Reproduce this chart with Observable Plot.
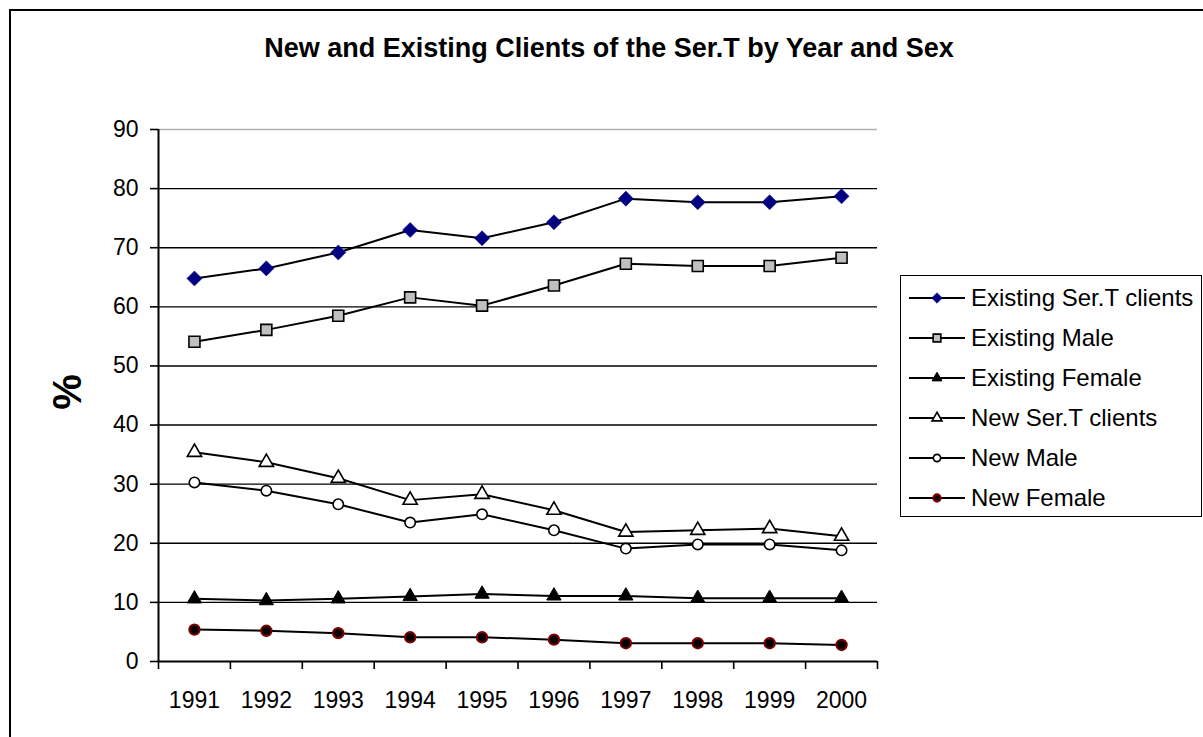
<!DOCTYPE html>
<html>
<head>
<meta charset="utf-8">
<script src="https://cdn.jsdelivr.net/npm/d3@7"></script>
<script src="https://cdn.jsdelivr.net/npm/@observablehq/plot@0.6"></script>
<style>
  html, body { margin: 0; padding: 0; background: #fff; }
  #wrap { position: relative; width: 1203px; height: 737px; overflow: hidden; background: #fff; font-family: "Liberation Sans", Arial, sans-serif; }
  #frame { position: absolute; left: 9px; top: 9px; width: 1300px; height: 800px; border: 2px solid #000; box-sizing: border-box; }
  #title { position: absolute; left: 0; width: 1218px; top: 33px; text-align: center; font-weight: bold; font-size: 27px; color: #000; }
  #chart { position: absolute; left: 0; top: 0; }
  #ylab { position: absolute; left: 67px; top: 392px; transform: translate(-50%, -50%) rotate(-90deg); font-weight: bold; font-size: 40px; color: #000; }
  #legend { position: absolute; left: 900px; top: 275px; width: 302px; height: 242px; border: 1.5px solid #000; box-sizing: border-box; background: #fff; }
  .item { position: absolute; left: 8px; height: 40px; display: flex; align-items: center; }
  .item span { font-size: 24px; color: #000; margin-left: 6px; white-space: nowrap; }
</style>
</head>
<body>
<div id="wrap">
  <div id="frame"></div>
  <div id="chart"></div>
  <div id="title">New and Existing Clients of the Ser.T by Year and Sex</div>
  <div id="ylab">%</div>
  <div id="legend"></div>
</div>
<script>
const years = [1991, 1992, 1993, 1994, 1995, 1996, 1997, 1998, 1999, 2000];
const seriesNames = ["Existing Ser.T clients", "Existing Male", "Existing Female", "New Ser.T clients", "New Male", "New Female"];
const existingTotal = [64.8, 66.5, 69.2, 73.0, 71.6, 74.3, 78.3, 77.7, 77.7, 78.7];
const existingMale = [54.1, 56.1, 58.5, 61.6, 60.2, 63.6, 67.3, 66.9, 66.9, 68.3];
const existingFemale = [10.6, 10.3, 10.6, 11.0, 11.4, 11.1, 11.1, 10.7, 10.7, 10.7];
const newTotal = [35.4, 33.7, 31.0, 27.3, 28.3, 25.6, 21.9, 22.2, 22.5, 21.2];
const newMale = [30.3, 28.9, 26.6, 23.5, 24.9, 22.2, 19.1, 19.8, 19.8, 18.8];
const newFemale = [5.4, 5.2, 4.8, 4.1, 4.1, 3.7, 3.1, 3.1, 3.1, 2.8];
const yTicks = [0, 10, 20, 30, 40, 50, 60, 70, 80, 90];

const seriesValues = [existingTotal, existingMale, existingFemale, newTotal, newMale, newFemale];
const data = [];
seriesNames.forEach((name, i) => {
  years.forEach((yr, j) => data.push({series: name, year: yr, value: seriesValues[i][j]}));
});

// marker styles per series
const styles = {
  "Existing Ser.T clients": {symbol: "diamond2", fill: "#000080", stroke: "#000080", r: 6.8, sw: 0.5},
  "Existing Male": {symbol: "square", fill: "#c0c0c0", stroke: "#000", r: 6.2, sw: 1.6},
  "Existing Female": {symbol: "triangle", fill: "#000", stroke: "#000", r: 5.3, sw: 1},
  "New Ser.T clients": {symbol: "triangle", fill: "#fff", stroke: "#000", r: 5.3, sw: 1.6},
  "New Male": {symbol: "circle", fill: "#fff", stroke: "#000", r: 5.2, sw: 1.6},
  "New Female": {symbol: "circle", fill: "#000", stroke: "#800000", r: 5.2, sw: 2}
};

const boundaries = d3.range(1990.5, 2001, 1);

const dotMarks = seriesNames.map(name => {
  const s = styles[name];
  return Plot.dot(data.filter(d => d.series === name), {
    x: "year", y: "value", symbol: () => s.symbol, r: s.r,
    fill: s.fill, stroke: s.stroke, strokeWidth: s.sw
  });
});

const chart = Plot.plot({
  width: 1203,
  height: 737,
  marginTop: 129,
  marginBottom: 76,
  marginLeft: 158,
  marginRight: 326,
  style: {fontFamily: "'Liberation Sans', Arial, sans-serif", background: "transparent", color: "#000"},
  x: {type: "linear", domain: [1990.5, 2000.5]},
  y: {domain: [0, 90]},
  symbol: {type: "identity"},
  marks: [
    Plot.ruleY(yTicks.filter(v => v > 0 && v < 90), {stroke: "#000", strokeWidth: 1.4}),
    Plot.ruleY([90], {stroke: "#b0b0b0", strokeWidth: 1.4}),
    Plot.axisY({ticks: yTicks, tickSize: 8, tickPadding: 12, fontSize: 23, tickFormat: d => String(d), strokeWidth: 1.6, label: null}),
    Plot.axisX({ticks: boundaries, tickSize: 8, tickFormat: () => "", strokeWidth: 1.6, label: null}),
    Plot.axisX({ticks: years, tickSize: 0, tickPadding: 30, fontSize: 23, tickFormat: d => String(d), label: null}),
    Plot.ruleX([1990.5], {stroke: "#000", strokeWidth: 2}),
    Plot.ruleY([0], {stroke: "#000", strokeWidth: 2}),
    Plot.line(data, {x: "year", y: "value", z: "series", stroke: "#000", strokeWidth: 2}),
    ...dotMarks
  ]
});
document.getElementById("chart").appendChild(chart);

// Legend
const legend = document.getElementById("legend");
const symMap = {diamond2: d3.symbolDiamond2, square: d3.symbolSquare, triangle: d3.symbolTriangle, circle: d3.symbolCircle};
seriesNames.forEach((name, i) => {
  const s = styles[name];
  const item = document.createElement("div");
  item.className = "item";
  item.style.top = (2 + i * 40) + "px";
  const scale = 0.7;
  const size = Math.PI * (s.r * scale) ** 2;
  const path = d3.symbol(symMap[s.symbol], size)();
  item.innerHTML = `<svg width="56" height="40" viewBox="0 0 56 40">
      <line x1="0" x2="56" y1="20" y2="20" stroke="#000" stroke-width="2"/>
      <path d="${path}" transform="translate(28,20)" fill="${s.fill}" stroke="${s.stroke}" stroke-width="${s.sw}"/>
    </svg><span>${name}</span>`;
  legend.appendChild(item);
});
</script>
</body>
</html>
